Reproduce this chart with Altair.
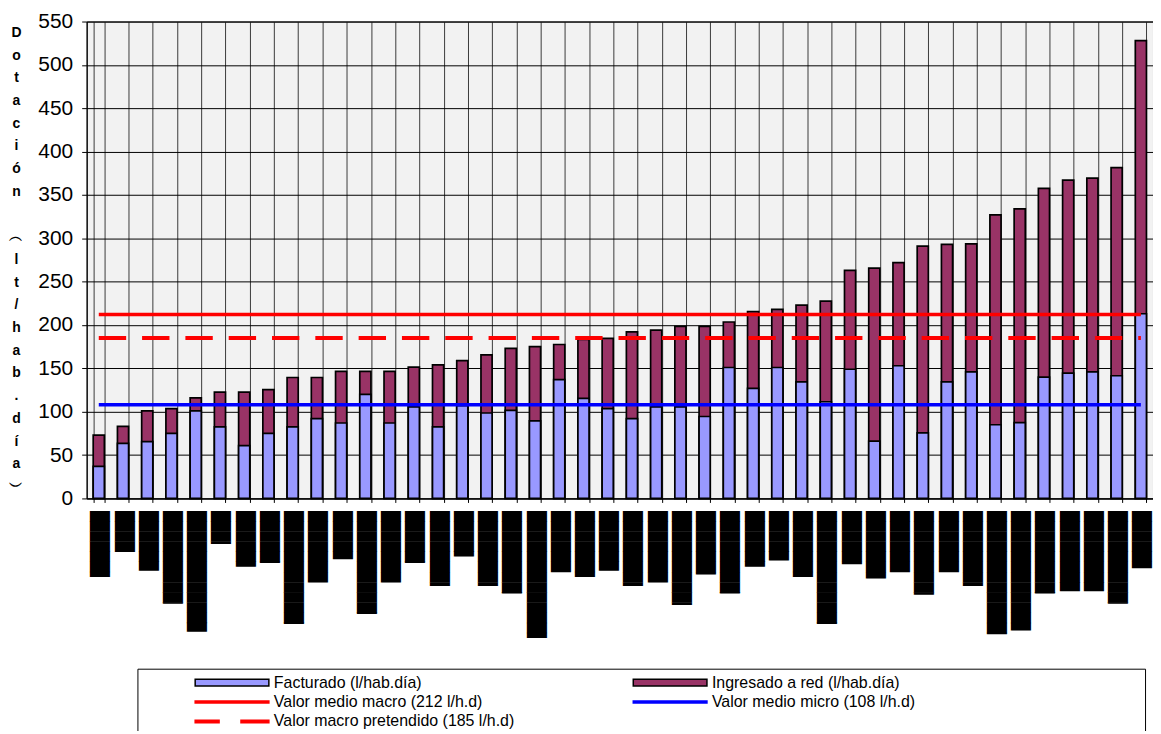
import altair as alt
import pandas as pd

# ---- data ----
facturado = [37, 63.5, 65.5, 75, 101, 82.5, 61, 75, 82.5, 92, 87, 120, 87, 105.5,
             82.5, 107, 98.5, 101.5, 89.5, 137, 115.5, 103.5, 92, 105.5, 105.5, 94.5,
             151, 127, 151, 134.5, 111.5, 149, 66, 153, 75.5, 134.5, 146, 85, 87.5,
             140, 144.5, 146, 141.5, 213]
ingresado_total = [73, 83, 101, 103.5, 116, 122.5, 122.5, 125.5, 139.5, 139.5, 146.5,
                   146.5, 146.5, 151.5, 154, 159, 165.5, 173, 175, 177.5, 183.5, 184.5,
                   192, 194, 198.5, 198.5, 203.5, 215.5, 218, 223, 227.5, 263, 265.5,
                   272, 291, 293, 293.5, 327, 334, 357.5, 367, 369.5, 381.5, 528]
# category labels appear as solid black blocks; lengths in eighths of a block cell
label_len8 = [52, 32, 47, 73, 95, 26, 44, 41, 89, 56, 38, 81, 56, 41, 59, 36, 59, 65,
              100, 48, 52, 47, 59, 56, 74, 50, 65, 44, 39, 52, 89, 42, 53, 48, 66, 48,
              59, 97, 94, 65, 63, 63, 73, 45]
valor_macro = 212
valor_micro = 108
valor_pretendido = 185

BLANK = "\u2800"
# legend entries, in the order the legend grid fills (column by column)
series_names = ["Facturado (l/hab.día)", "Valor medio macro (212 l/h.d)",
                "Valor macro pretendido (185 l/h.d)", "Ingresado a red (l/hab.día)" + BLANK * 20,
                "Valor medio micro (108 l/h.d)" + BLANK * 18]
y_title = ["D", "o", "t", "a", "c", "i", "ó", "n", BLANK, "︵", "l", "t", "/",
           "h", "a", "b", ".", "d", "í", "a", "︶"]

# ---- tables ----
n = len(ingresado_total)
ids = list(range(n))
bars = pd.DataFrame({"id": ids, "facturado": facturado, "total": ingresado_total})
lines = pd.DataFrame({
    "id": ids * 3,
    "value": [valor_macro] * n + [valor_micro] * n + [valor_pretendido] * n,
    "series": ["macro"] * n + ["micro"] * n + ["pretendido"] * n,
})
legend_df = pd.DataFrame({"series": series_names})

parts = ["", "▏", "▎", "▍", "▌", "▋", "▊", "▉"]
def blocks(n8):
    return "█" * (n8 // 8) + parts[n8 % 8]
labels = [blocks(v) for v in label_len8]
label_expr = "[" + ",".join("'" + s + "'" for s in labels) + "][datum.value]"

x_axis = alt.Axis(title=None, labelExpr=label_expr, labelAngle=90,
                  labelFont="DejaVu Sans Mono", labelFontSize=17, labelPadding=8,
                  labelColor="black", labelLimit=0, labelOverlap=False,
                  tickBand="extent", tickSize=4, tickColor="black",
                  grid=True, gridColor="#3a3a3a", gridWidth=1,
                  domainColor="black", domainWidth=1)
X = alt.X("id:O", axis=x_axis, sort="ascending",
          scale=alt.Scale(paddingInner=0.54, paddingOuter=0.27))

y_axis = alt.Axis(title=y_title, titleAngle=0, titleAlign="center",
                  titleBaseline="top", titleX=-71, titleY=4,
                  titleFont="Liberation Sans", titleFontWeight="bold",
                  titleFontSize=14, titleLineHeight=22.8, titleColor="black",
                  values=list(range(0, 551, 50)), labelFont="Liberation Sans",
                  labelFontSize=21, labelColor="black", labelPadding=9,
                  tickSize=5, tickColor="black", grid=True, gridColor="black",
                  gridWidth=1, domainColor="black")
y_scale = alt.Scale(domain=[0, 550], nice=False)

bar_total = alt.Chart(bars).mark_bar(color="#993366", stroke="black", strokeWidth=1.7).encode(
    x=X, y=alt.Y("total:Q", axis=y_axis, scale=y_scale))
bar_fact = alt.Chart(bars).mark_bar(color="#9999FF", stroke="black", strokeWidth=1.7).encode(
    x=X, y=alt.Y("facturado:Q", axis=y_axis, scale=y_scale))

base_line = alt.Chart(lines)
line_macro = base_line.transform_filter("datum.series == 'macro'").mark_line(
    color="#FF0000", strokeWidth=3.5).encode(x=X, y=alt.Y("value:Q", axis=y_axis, scale=y_scale))
line_micro = base_line.transform_filter("datum.series == 'micro'").mark_line(
    color="#0000FF", strokeWidth=3.5).encode(x=X, y=alt.Y("value:Q", axis=y_axis, scale=y_scale))
line_pret = base_line.transform_filter("datum.series == 'pretendido'").mark_line(
    color="#FF0000", strokeWidth=4, strokeDash=[27.5, 16]).encode(
    x=X, y=alt.Y("value:Q", axis=y_axis, scale=y_scale))

bar_sym = "M-1,-0.7H13.8V0.7H-1Z"
line_sym = "M-1,-0.2H13.8V0.2H-1Z"
dash_sym = "M-1,-0.25H3.8V0.25H-1ZM8.2,-0.25H13.8V0.25H8.2Z"
fills = ["#9999FF", "#FF0000", "#FF0000", "#993366", "#0000FF"]
strokes = ["black", "#FF0000", "#FF0000", "black", "#0000FF"]
shapes = [bar_sym, line_sym, dash_sym, bar_sym, line_sym]
legend = alt.Legend(title="\u00a0", titleOrient="left", titlePadding=49, titleFontSize=10,
                    orient="none", legendX=51, legendY=650, columns=2, columnPadding=116,
                    symbolSize=100, symbolStrokeWidth=1.5, symbolOpacity=1, symbolOffset=0,
                    labelOffset=66, labelFont="Liberation Sans", labelFontSize=16,
                    labelColor="black", labelLimit=0, rowPadding=3.5,
                    strokeColor="black", fillColor="white", padding=6)
legend_layer = alt.Chart(legend_df).mark_point(filled=True, size=100, opacity=1).encode(
    x=alt.value(-400), y=alt.value(-400),
    fill=alt.Fill("series:N", sort=series_names, legend=legend,
                  scale=alt.Scale(domain=series_names, range=fills)),
    stroke=alt.Stroke("series:N", sort=series_names, legend=legend,
                      scale=alt.Scale(domain=series_names, range=strokes)),
    shape=alt.Shape("series:N", sort=series_names, legend=legend,
                    scale=alt.Scale(domain=series_names, range=shapes)),
)

chart = alt.layer(bar_total, bar_fact, line_macro, line_micro, line_pret, legend_layer).properties(
    width=1071, height=479,
    padding={"left": 79, "top": 12, "right": 0, "bottom": 232},
    autosize=alt.AutoSizeParams(type="none"),
    background="white",
).configure_view(fill="#F2F2F2", stroke="black", strokeWidth=1)

chart.save("out.html", embed_options={"renderer": "svg", "actions": False})
